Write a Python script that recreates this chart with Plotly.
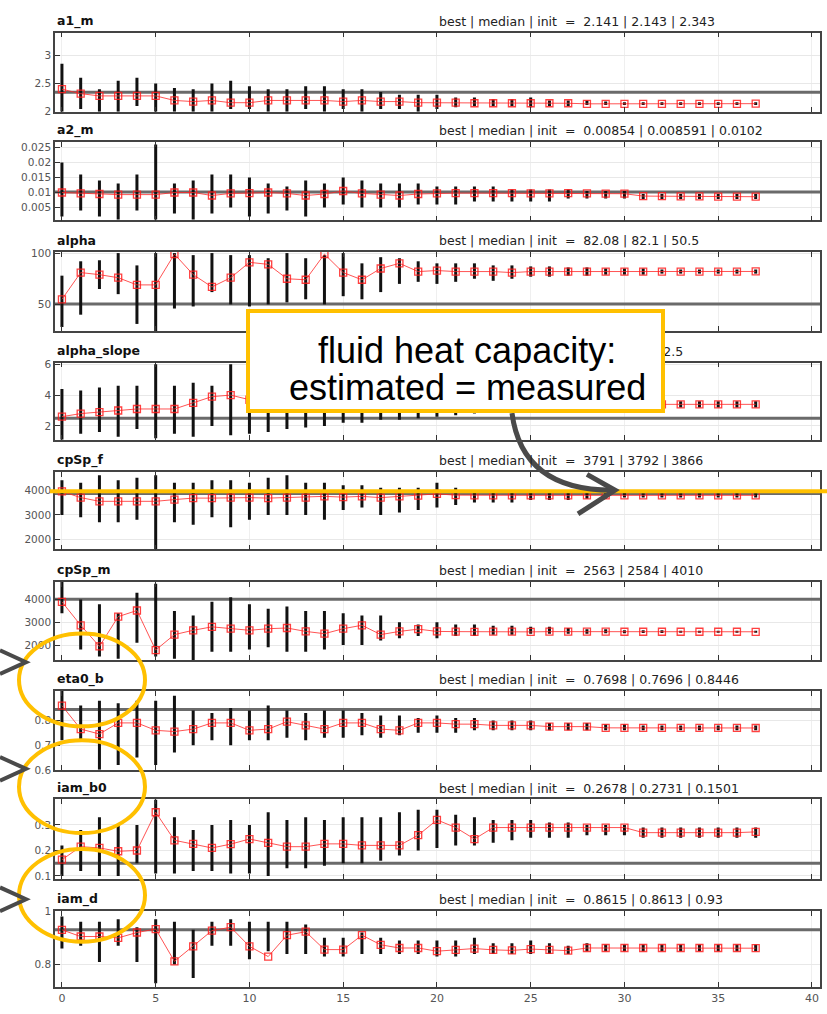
import plotly.graph_objects as go

W, H = 827, 1014

iters = list(range(38))

titles = ["a1_m", "a2_m", "alpha", "alpha_slope", "cpSp_f", "cpSp_m", "eta0_b", "iam_b0", "iam_d"]
summaries = [
    "best | median | init  =  2.141 | 2.143 | 2.343",
    "best | median | init  =  0.00854 | 0.008591 | 0.0102",
    "best | median | init  =  82.08 | 82.1 | 50.5",
    "best | median | init  =  3.395 | 3.4 | 2.5",
    "best | median | init  =  3791 | 3792 | 3866",
    "best | median | init  =  2563 | 2584 | 4010",
    "best | median | init  =  0.7698 | 0.7696 | 0.8446",
    "best | median | init  =  0.2678 | 0.2731 | 0.1501",
    "best | median | init  =  0.8615 | 0.8613 | 0.93",
]
init_values = [2.343, 0.0102, 50.5, 2.5, 3866, 4010, 0.8446, 0.1501, 0.93]

a1_m_med = [2.40, 2.32, 2.28, 2.28, 2.28, 2.28, 2.20, 2.18, 2.20, 2.16, 2.16, 2.20, 2.20, 2.20, 2.20, 2.18, 2.20, 2.18, 2.18, 2.16, 2.16, 2.16, 2.15, 2.15, 2.15, 2.15, 2.15, 2.15, 2.14, 2.14, 2.14, 2.14, 2.14, 2.14, 2.14, 2.14, 2.14, 2.143]
a1_m_lo = [2.0, 2.05, 2.0, 2.0, 2.1, 2.0, 2.0, 2.0, 2.0, 2.05, 2.05, 2.0, 2.0, 2.05, 2.0, 2.05, 2.0, 2.05, 2.05, 2.0, 2.05, 2.08, 2.1, 2.1, 2.1, 2.08, 2.1, 2.1, 2.12, 2.12, 2.12, 2.12, 2.12, 2.12, 2.12, 2.12, 2.12, 2.12]
a1_m_hi = [2.85, 2.6, 2.4, 2.55, 2.6, 2.5, 2.42, 2.4, 2.5, 2.55, 2.45, 2.4, 2.4, 2.45, 2.45, 2.4, 2.4, 2.35, 2.3, 2.3, 2.3, 2.25, 2.25, 2.22, 2.22, 2.25, 2.2, 2.2, 2.2, 2.18, 2.17, 2.17, 2.17, 2.17, 2.17, 2.17, 2.17, 2.17]

a2_m_med = [0.0100, 0.0097, 0.0095, 0.0093, 0.0093, 0.0093, 0.0100, 0.0100, 0.0090, 0.0097, 0.0098, 0.0100, 0.0097, 0.0090, 0.0095, 0.0105, 0.0097, 0.0093, 0.0090, 0.0095, 0.0097, 0.0098, 0.0098, 0.0098, 0.0098, 0.0097, 0.0097, 0.0098, 0.0097, 0.0096, 0.0096, 0.0088, 0.0088, 0.0087, 0.0087, 0.0086, 0.0086, 0.0086]
a2_m_lo = [0.002, 0.004, 0.002, 0.001, 0.004, 0.001, 0.003, 0.001, 0.003, 0.005, 0.002, 0.003, 0.004, 0.002, 0.005, 0.006, 0.005, 0.005, 0.005, 0.006, 0.006, 0.006, 0.007, 0.007, 0.007, 0.007, 0.007, 0.008, 0.008, 0.008, 0.008, 0.0078, 0.0078, 0.0078, 0.0078, 0.0078, 0.0078, 0.0078]
a2_m_hi = [0.020, 0.016, 0.014, 0.013, 0.016, 0.026, 0.013, 0.014, 0.016, 0.016, 0.015, 0.013, 0.012, 0.014, 0.013, 0.015, 0.014, 0.013, 0.013, 0.013, 0.012, 0.012, 0.012, 0.012, 0.011, 0.011, 0.011, 0.011, 0.0105, 0.0105, 0.0105, 0.0095, 0.0095, 0.0095, 0.0095, 0.0095, 0.0095, 0.0095]

alpha_med = [55, 81, 79, 76, 69, 69, 99, 79, 67, 76, 91, 89, 75, 74, 99, 81, 74, 85, 90, 82, 83, 82, 82, 82, 81, 82, 82, 82, 82, 82, 82, 82, 82, 82, 82, 82, 82, 82.1]
alpha_lo = [28, 40, 65, 60, 31, 24, 46, 48, 62, 50, 48, 50, 52, 55, 50, 58, 55, 62, 70, 72, 70, 72, 75, 73, 75, 77, 77, 78, 78, 79, 79, 79, 80, 80, 80, 80, 80, 80]
alpha_hi = [78, 92, 93, 100, 88, 100, 100, 98, 100, 98, 98, 95, 100, 95, 98, 100, 90, 96, 95, 92, 90, 90, 90, 88, 88, 87, 87, 86, 86, 85, 85, 85, 84, 84, 84, 84, 84, 84]

alpha_slope_med = [2.6, 2.8, 2.9, 3.0, 3.1, 3.1, 3.1, 3.5, 3.9, 4.0, 3.7, 3.6, 3.5, 3.5, 3.6, 3.5, 3.4, 3.5, 3.4, 3.5, 3.4, 3.4, 3.4, 3.4, 3.4, 3.4, 3.4, 3.4, 3.4, 3.4, 3.4, 3.4, 3.4, 3.4, 3.4, 3.4, 3.4, 3.4]
alpha_slope_lo = [1.1, 1.5, 1.6, 1.3, 1.8, 1.2, 1.5, 1.3, 2.0, 1.4, 1.5, 1.6, 1.8, 1.9, 2.0, 2.2, 2.2, 2.4, 2.4, 2.5, 2.6, 2.7, 2.8, 2.9, 3.0, 3.0, 3.1, 3.1, 3.1, 3.2, 3.2, 3.2, 3.2, 3.2, 3.2, 3.2, 3.2, 3.2]
alpha_slope_hi = [4.4, 4.3, 4.5, 4.6, 4.6, 6.0, 4.6, 4.8, 4.6, 6.0, 4.8, 4.6, 4.5, 4.4, 4.3, 4.2, 4.1, 4.0, 4.0, 3.9, 3.9, 3.9, 3.8, 3.8, 3.8, 3.7, 3.7, 3.7, 3.6, 3.6, 3.6, 3.6, 3.6, 3.6, 3.6, 3.6, 3.6, 3.6]

cpSp_f_med = [3950, 3700, 3550, 3550, 3550, 3550, 3620, 3680, 3680, 3700, 3700, 3680, 3700, 3700, 3750, 3720, 3750, 3700, 3750, 3780, 3850, 3800, 3790, 3790, 3790, 3790, 3790, 3790, 3790, 3790, 3790, 3790, 3790, 3790, 3790, 3790, 3790, 3792]
cpSp_f_lo = [3000, 2900, 2700, 2700, 2800, 1500, 2700, 2600, 2900, 2500, 2800, 3000, 3000, 3000, 2800, 3200, 3300, 3000, 3100, 3200, 3300, 3400, 3500, 3500, 3500, 3600, 3600, 3600, 3650, 3650, 3700, 3700, 3700, 3700, 3700, 3700, 3700, 3700]
cpSp_f_hi = [4400, 4300, 4600, 4400, 4500, 4600, 4300, 4300, 4400, 4400, 4300, 4500, 4600, 4300, 4300, 4200, 4200, 4100, 4100, 4100, 4300, 4100, 4000, 4000, 4000, 4000, 3950, 3950, 3900, 3900, 3900, 3880, 3880, 3880, 3880, 3880, 3880, 3880]

cpSp_m_med = [3900, 2870, 1940, 3250, 3520, 1780, 2460, 2650, 2800, 2720, 2650, 2720, 2750, 2600, 2500, 2720, 2870, 2460, 2600, 2700, 2600, 2590, 2580, 2590, 2590, 2580, 2590, 2590, 2590, 2590, 2585, 2585, 2585, 2585, 2585, 2585, 2585, 2584]
cpSp_m_lo = [3400, 1800, 1500, 1400, 2100, 1500, 1400, 1300, 1700, 1700, 1800, 1900, 1700, 1700, 1800, 2000, 2000, 2200, 2300, 2400, 2300, 2400, 2400, 2450, 2450, 2500, 2500, 2500, 2500, 2520, 2520, 2530, 2530, 2540, 2540, 2540, 2540, 2540]
cpSp_m_hi = [4770, 4000, 3800, 3400, 4300, 4700, 3500, 3300, 3900, 4100, 3800, 3600, 3700, 3500, 3500, 3400, 3300, 3300, 3000, 2900, 3000, 2900, 2900, 2850, 2850, 2800, 2800, 2750, 2700, 2700, 2650, 2650, 2650, 2630, 2630, 2630, 2630, 2630]

eta0_b_med = [0.86, 0.765, 0.745, 0.79, 0.79, 0.76, 0.755, 0.765, 0.79, 0.79, 0.76, 0.765, 0.795, 0.78, 0.765, 0.79, 0.79, 0.765, 0.76, 0.79, 0.79, 0.785, 0.785, 0.78, 0.78, 0.78, 0.775, 0.775, 0.775, 0.77, 0.77, 0.77, 0.77, 0.77, 0.77, 0.77, 0.77, 0.7695]
eta0_b_lo = [0.72, 0.72, 0.60, 0.62, 0.65, 0.62, 0.67, 0.70, 0.72, 0.70, 0.72, 0.72, 0.73, 0.72, 0.73, 0.73, 0.74, 0.73, 0.74, 0.75, 0.75, 0.75, 0.76, 0.76, 0.76, 0.76, 0.76, 0.76, 0.76, 0.76, 0.76, 0.76, 0.76, 0.76, 0.76, 0.76, 0.76, 0.76]
eta0_b_hi = [0.92, 0.86, 0.88, 0.87, 0.88, 0.88, 0.90, 0.84, 0.83, 0.85, 0.84, 0.86, 0.84, 0.83, 0.84, 0.84, 0.83, 0.82, 0.82, 0.81, 0.82, 0.81, 0.81, 0.80, 0.80, 0.80, 0.79, 0.79, 0.79, 0.785, 0.785, 0.78, 0.78, 0.78, 0.78, 0.78, 0.78, 0.78]

iam_b0_med = [0.164, 0.215, 0.21, 0.197, 0.20, 0.35, 0.24, 0.226, 0.21, 0.225, 0.245, 0.23, 0.215, 0.215, 0.226, 0.226, 0.22, 0.22, 0.22, 0.26, 0.32, 0.29, 0.245, 0.29, 0.29, 0.29, 0.29, 0.29, 0.29, 0.29, 0.29, 0.27, 0.27, 0.27, 0.27, 0.27, 0.27, 0.273]
iam_b0_lo = [0.10, 0.12, 0.10, 0.10, 0.15, 0.11, 0.11, 0.12, 0.12, 0.11, 0.11, 0.10, 0.13, 0.13, 0.14, 0.15, 0.15, 0.16, 0.18, 0.20, 0.21, 0.22, 0.22, 0.23, 0.24, 0.25, 0.25, 0.25, 0.26, 0.26, 0.26, 0.25, 0.25, 0.25, 0.25, 0.25, 0.25, 0.25]
iam_b0_hi = [0.22, 0.28, 0.33, 0.30, 0.30, 0.40, 0.33, 0.28, 0.30, 0.32, 0.30, 0.35, 0.32, 0.33, 0.32, 0.33, 0.33, 0.33, 0.35, 0.36, 0.36, 0.34, 0.33, 0.32, 0.32, 0.32, 0.31, 0.31, 0.30, 0.30, 0.30, 0.29, 0.29, 0.29, 0.29, 0.29, 0.29, 0.29]

iam_d_med = [0.93, 0.905, 0.905, 0.90, 0.92, 0.933, 0.812, 0.868, 0.927, 0.94, 0.868, 0.83, 0.91, 0.923, 0.856, 0.856, 0.91, 0.874, 0.862, 0.862, 0.85, 0.855, 0.86, 0.855, 0.853, 0.858, 0.855, 0.852, 0.862, 0.862, 0.862, 0.862, 0.862, 0.862, 0.862, 0.862, 0.862, 0.8613]
iam_d_lo = [0.86, 0.87, 0.81, 0.87, 0.81, 0.73, 0.80, 0.75, 0.87, 0.87, 0.82, 0.85, 0.84, 0.84, 0.83, 0.83, 0.84, 0.84, 0.84, 0.84, 0.83, 0.83, 0.84, 0.84, 0.84, 0.84, 0.84, 0.84, 0.85, 0.85, 0.85, 0.85, 0.85, 0.85, 0.85, 0.85, 0.85, 0.85]
iam_d_hi = [0.98, 0.96, 0.96, 0.97, 0.94, 0.97, 0.96, 0.93, 0.96, 0.97, 0.96, 0.96, 0.96, 0.95, 0.90, 0.90, 0.92, 0.90, 0.89, 0.89, 0.89, 0.89, 0.90, 0.88, 0.88, 0.89, 0.88, 0.87, 0.88, 0.875, 0.875, 0.875, 0.875, 0.875, 0.875, 0.875, 0.875, 0.875]

y_ranges = [[2, 3.4], [0.0007, 0.0267], [24, 101], [1.1, 6.1], [1600, 4720],
            [1335, 4770], [0.6, 0.92], [0.09, 0.4], [0.715, 1.0]]
y_ticks = [[2, 2.5, 3], [0.005, 0.01, 0.015, 0.02, 0.025], [50, 100], [2, 4, 6],
           [2000, 3000, 4000], [2000, 3000, 4000], [0.6, 0.7, 0.8], [0.1, 0.2, 0.3], [0.8, 1]]
y_ticklabels = [["2", "2.5", "3"], ["0.005", "0.01", "0.015", "0.02", "0.025"], ["50", "100"],
                ["2", "4", "6"], ["2000", "3000", "4000"], ["2000", "3000", "4000"],
                ["0.6", "0.7", "0.8"], ["0.1", "0.2", "0.3"], ["0.8", "1"]]
x_ticks = [0, 5, 10, 15, 20, 25, 30, 35, 40]

medians = [a1_m_med, a2_m_med, alpha_med, alpha_slope_med, cpSp_f_med, cpSp_m_med, eta0_b_med, iam_b0_med, iam_d_med]
lows = [a1_m_lo, a2_m_lo, alpha_lo, alpha_slope_lo, cpSp_f_lo, cpSp_m_lo, eta0_b_lo, iam_b0_lo, iam_d_lo]
highs = [a1_m_hi, a2_m_hi, alpha_hi, alpha_slope_hi, cpSp_f_hi, cpSp_m_hi, eta0_b_hi, iam_b0_hi, iam_d_hi]

# panel pixel extents (top, bottom)
panel_px = [(27, 107), (138, 217), (249, 329), (361, 439), (472, 550),
            (583, 662), (693, 773), (803, 883), (916, 993)]
X_LEFT, X_RIGHT = 55, 820


def fx(p):
    return p / W


def fy(p):
    return 1 - p / H


fig = go.Figure()
layout = dict(width=W, height=H, margin=dict(l=0, r=0, t=0, b=0),
              paper_bgcolor="white", plot_bgcolor="white", showlegend=False)
shapes = []
annotations = []
font_family = "Liberation Sans, Arial, sans-serif"
small_font = "DejaVu Sans, sans-serif"

for k in range(9):
    n = k + 1
    xs = "x" if n == 1 else f"x{n}"
    ys = "y" if n == 1 else f"y{n}"
    xkey = "xaxis" if n == 1 else f"xaxis{n}"
    ykey = "yaxis" if n == 1 else f"yaxis{n}"
    top, bot = panel_px[k]
    layout[xkey] = dict(domain=[fx(X_LEFT), fx(X_RIGHT)], range=[-0.37, 40.43], anchor=ys,
                        tickvals=x_ticks, ticks="inside", ticklen=5, tickcolor="#333",
                        showticklabels=(n == 9), showline=True, linecolor="#444", linewidth=1.5,
                        mirror="ticks", showgrid=True, gridcolor="#efefef", zeroline=False,
                        tickfont=dict(size=11, color="#555", family=small_font))
    layout[ykey] = dict(domain=[fy(bot), fy(top)], range=y_ranges[k], anchor=xs,
                        tickvals=y_ticks[k], ticktext=y_ticklabels[k], ticks="inside",
                        ticklen=5, tickcolor="#333", showline=True, linecolor="#444",
                        linewidth=1.5, mirror=True, showgrid=True, gridcolor="#e8e8e8",
                        zeroline=False, tickfont=dict(size=10.5, color="#555", family=small_font))

    # init line (drawn as a trace across the full x range)
    fig.add_trace(go.Scatter(x=[-0.37, 40.43], y=[init_values[k], init_values[k]], mode="lines",
                             xaxis=xs, yaxis=ys, line=dict(color="#6a6a6a", width=3),
                             hoverinfo="skip"))

    # sample clouds as vertical black columns
    bx, by = [], []
    for i, lo, hi in zip(iters, lows[k], highs[k]):
        bx += [i, i, None]
        by += [lo, hi, None]
    fig.add_trace(go.Scatter(x=bx, y=by, mode="lines", xaxis=xs, yaxis=ys,
                             line=dict(color="#111", width=3), hoverinfo="skip"))
    # median line
    fig.add_trace(go.Scatter(x=iters, y=medians[k], mode="lines+markers", xaxis=xs, yaxis=ys,
                             line=dict(color="rgba(255,40,40,0.8)", width=1),
                             marker=dict(symbol="square-open", size=7, color="rgba(255,30,30,0.85)",
                                         line=dict(width=1.3))))

    annotations.append(dict(xref="paper", yref="paper", x=fx(X_LEFT), y=fy(top - 2),
                            xanchor="left", yanchor="bottom", showarrow=False,
                            text=f"<b>{titles[k]}</b>",
                            font=dict(size=12.5, color="#111", family=small_font)))
    annotations.append(dict(xref="paper", yref="paper", x=fx(437), y=fy(top - 2),
                            xanchor="left", yanchor="bottom", showarrow=False,
                            text=summaries[k],
                            font=dict(size=12.5, color="#222", family=small_font)))

ORANGE = "#FFC000"
GREY = "#4a4a4a"

# orange horizontal line over cpSp_f
shapes.append(dict(type="line", xref="paper", yref="paper", x0=fx(50), x1=fx(827),
                   y0=fy(491), y1=fy(491), line=dict(color=ORANGE, width=4), layer="above"))

# callout box (as an annotation so it covers the panel text underneath)
annotations.append(dict(xref="paper", yref="paper", x=fx(455.5), y=fy(359), xanchor="center",
                        yanchor="middle", showarrow=False, text=" ", width=411, height=96,
                        bgcolor="white", bordercolor=ORANGE, borderwidth=4, borderpad=0))
annotations.append(dict(xref="paper", yref="paper", x=fx(467), y=fy(349), xanchor="center",
                        yanchor="middle", showarrow=False, text="fluid heat capacity:",
                        font=dict(size=36, color="black", family=font_family)))
annotations.append(dict(xref="paper", yref="paper", x=fx(467), y=fy(386), xanchor="center",
                        yanchor="middle", showarrow=False, text="estimated = measured",
                        font=dict(size=36, color="black", family=font_family)))


def path(points):
    return "M " + " L ".join(f"{fx(a)},{fy(b)}" for a, b in points)


# curved arrow from box to orange line
shapes.append(dict(type="path", xref="paper", yref="paper",
                   path=f"M {fx(512)},{fy(412)} Q {fx(522)},{fy(490)} {fx(612)},{fy(490)}",
                   line=dict(color=GREY, width=5), layer="above"))
shapes.append(dict(type="path", xref="paper", yref="paper",
                   path=path([(587, 474), (615, 490), (578, 514)]),
                   line=dict(color=GREY, width=5), layer="above"))

# ellipses around eta0_b, iam_b0, iam_d labels
for cy in (682, 790, 900):
    shapes.append(dict(type="circle", xref="paper", yref="paper", x0=fx(19), x1=fx(145),
                       y0=fy(cy + 47), y1=fy(cy - 47), line=dict(color=ORANGE, width=4),
                       layer="above"))
# small pointers on the left edge
for cy in (664, 772, 904):
    shapes.append(dict(type="path", xref="paper", yref="paper",
                       path=path([(0, cy - 12), (26, cy), (0, cy + 12)]),
                       line=dict(color=GREY, width=4), layer="above"))

layout["shapes"] = shapes
layout["annotations"] = annotations
fig.update_layout(**layout)
fig.write_html("out.html")
